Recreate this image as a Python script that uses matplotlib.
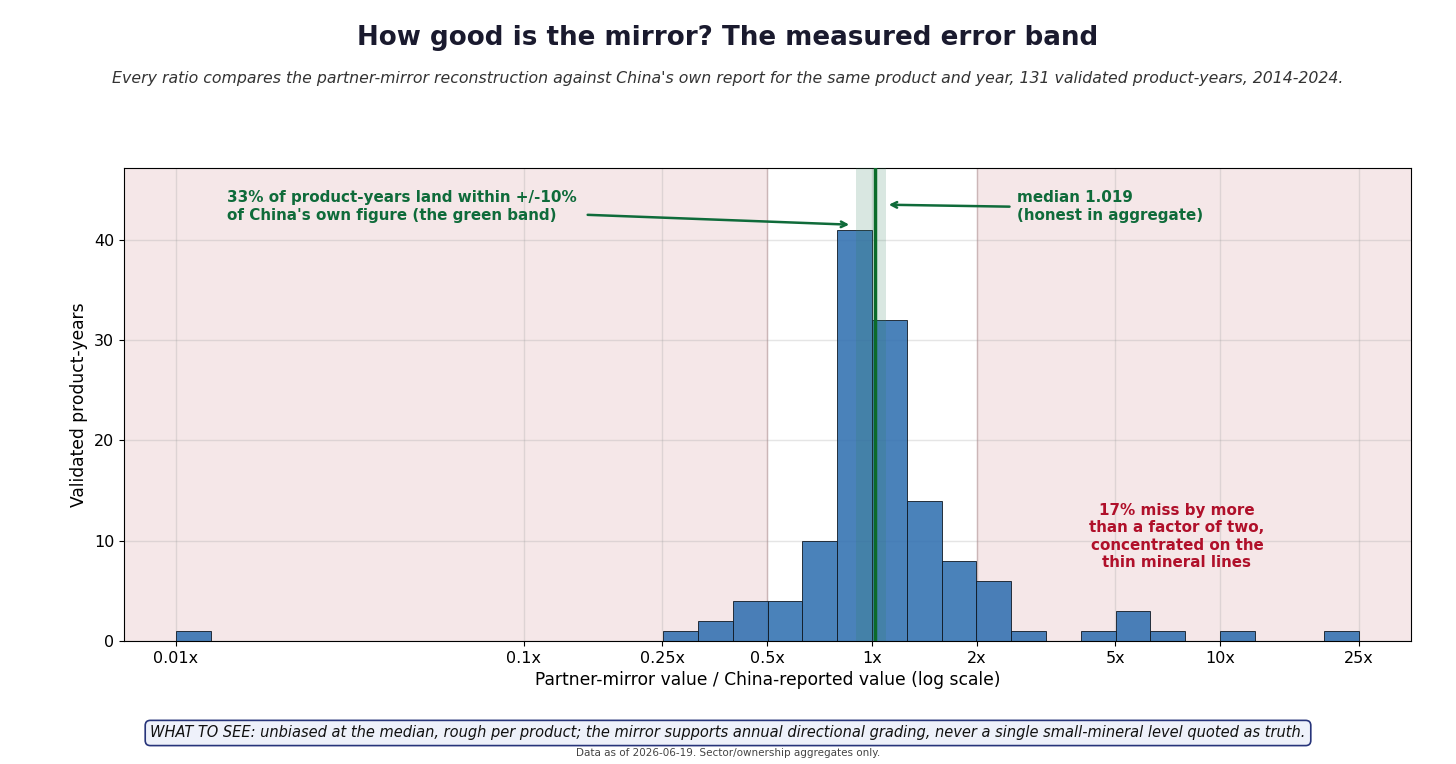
import numpy as np
import matplotlib.pyplot as plt
from matplotlib.ticker import FixedLocator, NullLocator

# histogram of ratios: log10 bins of width 0.1, from 0.01x to ~25x
bin_exp = np.arange(-20, 14) / 10.0
counts = [1, 0, 0, 0, 0, 0, 0, 0, 0, 0, 0, 0, 0, 0,
          1, 2, 4, 4, 10, 41, 32, 14, 8, 6, 1, 0, 1, 3, 1, 0, 1, 0, 0, 1]
tick_vals = [0.01, 0.1, 0.25, 0.5, 1, 2, 5, 10, 25]
tick_labels = ['0.01x', '0.1x', '0.25x', '0.5x', '1x', '2x', '5x', '10x', '25x']
median = 1.019
band = (0.9, 1.1)
miss_lo, miss_hi = 0.5, 2.0

left = 10 ** bin_exp
right = 10 ** (bin_exp + 0.1)

fig = plt.figure(figsize=(14.56, 7.64), dpi=100)
ax = fig.add_axes([0.0852, 0.161, 0.884, 0.619])

ax.set_xscale('log')
ax.set_xlim(0.0071, 35.4)
ax.set_ylim(0, 47.15)

ax.axvspan(0.0071, miss_lo, color='#e8c4c6', alpha=0.4, lw=0, zorder=0)
ax.axvspan(miss_hi, 35.4, color='#e8c4c6', alpha=0.4, lw=0, zorder=0)
ax.axvline(miss_lo, color='#dcc0c2', lw=1, zorder=0.5)
ax.axvline(miss_hi, color='#dcc0c2', lw=1, zorder=0.5)

ax.bar(left, counts, width=right - left, align='edge', color='#2f6fb0',
       alpha=0.87, edgecolor='#111a24', linewidth=0.7, zorder=2)

ax.axvspan(band[0], band[1], color='#2e7d5b', alpha=0.18, lw=0, zorder=3)
ax.axvline(median, color='#0b6b2a', lw=2.5, zorder=4)

ax.xaxis.set_major_locator(FixedLocator(tick_vals))
ax.set_xticklabels(tick_labels)
ax.xaxis.set_minor_locator(NullLocator())
ax.set_yticks([0, 10, 20, 30, 40])
ax.tick_params(labelsize=11.5)
ax.grid(True, color='#999999', alpha=0.25, lw=1)
ax.set_axisbelow(True)

ax.set_xlabel('Partner-mirror value / China-reported value (log scale)', fontsize=12.3)
ax.set_ylabel('Validated product-years', fontsize=12.3)

green = '#0f6b3a'
ax.text(0.014, 43.3, "33% of product-years land within +/-10%\nof China's own figure (the green band)",
        color=green, fontsize=10.9, fontweight='bold', va='center', ha='left', zorder=5)
ax.annotate('', xy=(0.876, 41.5), xytext=(0.1497, 42.5),
            arrowprops=dict(arrowstyle='->', color=green, lw=1.8), zorder=5)
ax.text(2.61, 43.3, 'median 1.019\n(honest in aggregate)',
        color=green, fontsize=10.9, fontweight='bold', va='center', ha='left', zorder=5)
ax.annotate('', xy=(1.097, 43.5), xytext=(2.53, 43.3),
            arrowprops=dict(arrowstyle='->', color=green, lw=1.8), zorder=5)
ax.text(7.52, 10.4, '17% miss by more\nthan a factor of two,\nconcentrated on the\nthin mineral lines',
        color='#b0102a', fontsize=10.9, fontweight='bold', va='center', ha='center',
        linespacing=1.2, zorder=5)

fig.text(0.5, 0.950, 'How good is the mirror? The measured error band',
         ha='center', va='center', fontsize=18.8, fontweight='bold', color='#1a1a2e')
fig.text(0.5, 0.897, "Every ratio compares the partner-mirror reconstruction against China's own report "
         "for the same product and year, 131 validated product-years, 2014-2024.",
         ha='center', va='center', fontsize=11.3, style='italic', color='#333333')
fig.text(0.5, 0.0406, 'WHAT TO SEE: unbiased at the median, rough per product; the mirror supports annual '
         'directional grading, never a single small-mineral level quoted as truth.',
         ha='center', va='center', fontsize=10.5, style='italic', color='#111111',
         bbox=dict(boxstyle='round,pad=0.35', facecolor='#eef1fa', edgecolor='#27347a', lw=1.2))
fig.text(0.5, 0.0144, 'Data as of 2026-06-19. Sector/ownership aggregates only.',
         ha='center', va='center', fontsize=7.5, color='#444444')

fig.savefig('out.png', dpi=100)
